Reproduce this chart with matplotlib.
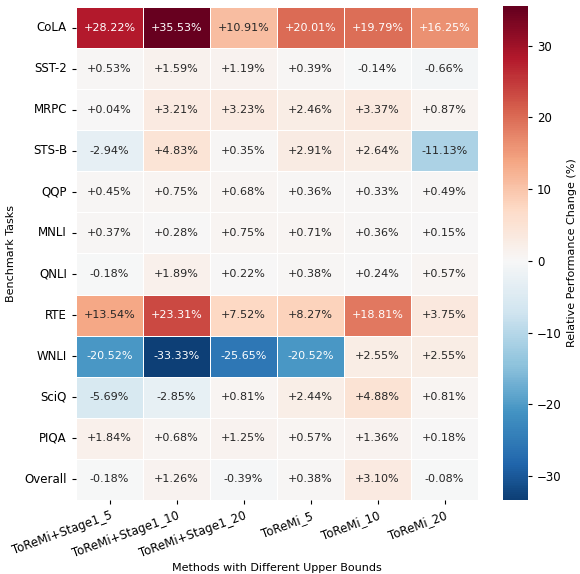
import numpy as np
import matplotlib
matplotlib.use('Agg')
import matplotlib.pyplot as plt
import seaborn as sns

# Benchmark tasks (rows) and methods (columns)
tasks = ['CoLA', 'SST-2', 'MRPC', 'STS-B', 'QQP', 'MNLI', 'QNLI', 'RTE',
         'WNLI', 'SciQ', 'PIQA', 'Overall']
methods = ['ToReMi+Stage1_5', 'ToReMi+Stage1_10', 'ToReMi+Stage1_20',
           'ToReMi_5', 'ToReMi_10', 'ToReMi_20']

# relative change in %, one list per task
cola = [28.22, 35.53, 10.91, 20.01, 19.79, 16.25]
sst2 = [0.53, 1.59, 1.19, 0.39, -0.14, -0.66]
mrpc = [0.04, 3.21, 3.23, 2.46, 3.37, 0.87]
stsb = [-2.94, 4.83, 0.35, 2.91, 2.64, -11.13]
qqp = [0.45, 0.75, 0.68, 0.36, 0.33, 0.49]
mnli = [0.37, 0.28, 0.75, 0.71, 0.36, 0.15]
qnli = [-0.18, 1.89, 0.22, 0.38, 0.24, 0.57]
rte = [13.54, 23.31, 7.52, 8.27, 18.81, 3.75]
wnli = [-20.52, -33.33, -25.65, -20.52, 2.55, 2.55]
sciq = [-5.69, -2.85, 0.81, 2.44, 4.88, 0.81]
piqa = [1.84, 0.68, 1.25, 0.57, 1.36, 0.18]
overall = [-0.18, 1.26, -0.39, 0.38, 3.10, -0.08]

data = np.array([cola, sst2, mrpc, stsb, qqp, mnli, qnli, rte, wnli, sciq, piqa, overall])
labels = np.array([['%+.2f%%' % v for v in row] for row in data])

fs = 8
fig = plt.figure(figsize=(5.8, 5.74), dpi=100)
ax = fig.add_axes([76/580, 1 - 500/574, 402/580, 493/574])
cax = fig.add_axes([503/580, 1 - 500/574, 25/580, 494/574])

sns.heatmap(data, ax=ax, cbar_ax=cax, cmap='RdBu_r', center=0,
            annot=labels, fmt='', annot_kws={'size': fs},
            linewidths=0.6, linecolor='white',
            xticklabels=methods, yticklabels=tasks,
            cbar_kws={'label': 'Relative Performance Change (%)'})

ax.set_xlabel('Methods with Different Upper Bounds', fontsize=fs, labelpad=2)
ax.set_ylabel('Benchmark Tasks', fontsize=fs, labelpad=6)
ax.tick_params(axis='both', labelsize=8.5, length=3)
plt.setp(ax.get_xticklabels(), rotation=20, ha='right', rotation_mode='anchor')
plt.setp(ax.get_yticklabels(), rotation=0)
cax.tick_params(labelsize=8.5, length=3)
cax.yaxis.label.set_size(fs)

plt.savefig('out.png', dpi=100)
